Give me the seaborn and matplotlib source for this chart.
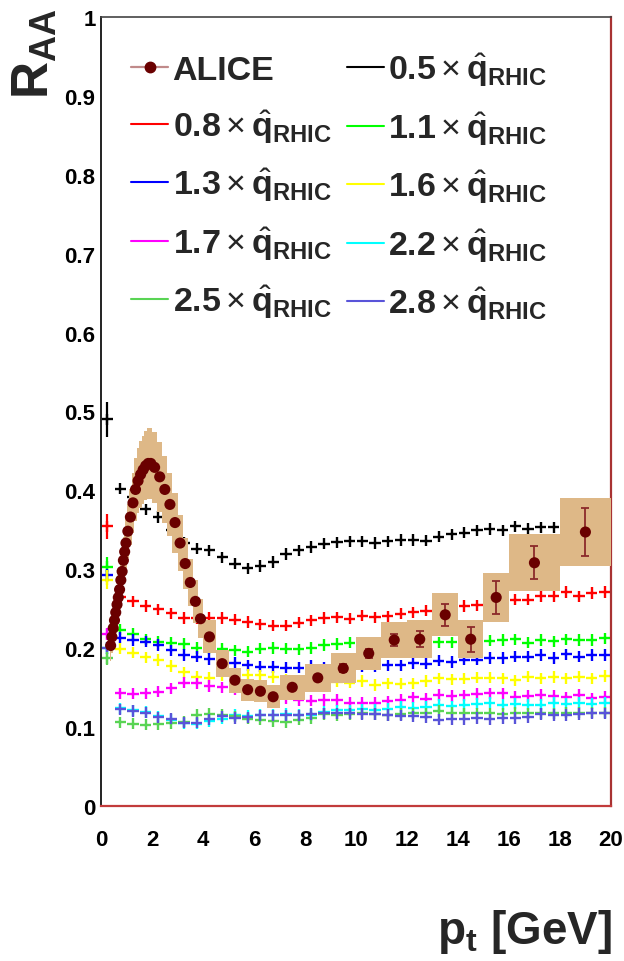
import numpy as np
import pandas as pd
import matplotlib
matplotlib.use("Agg")
import matplotlib.pyplot as plt
from matplotlib.lines import Line2D
from matplotlib.ticker import MultipleLocator, FuncFormatter
import seaborn as sns

# ---------------------------------------------------------------------------
# ALICE charged-hadron nuclear modification factor (central Pb-Pb)
# ---------------------------------------------------------------------------
alice_lo = [0.35, 0.40, 0.45, 0.50, 0.55, 0.60, 0.65, 0.70, 0.75, 0.80, 0.85, 0.90, 0.95,
            1.0, 1.1, 1.2, 1.3, 1.4, 1.5, 1.6, 1.7, 1.8, 1.9,
            2.0, 2.2, 2.4, 2.6, 2.8, 3.0, 3.2, 3.4, 3.6, 3.8,
            4.0, 4.5, 5.0, 5.5, 6.0, 6.5,
            7.0, 8.0, 9.0, 10.0, 11.0, 12.0, 13.0, 14.0, 15.0, 16.0, 18.0]
alice_hi = [0.40, 0.45, 0.50, 0.55, 0.60, 0.65, 0.70, 0.75, 0.80, 0.85, 0.90, 0.95, 1.0,
            1.1, 1.2, 1.3, 1.4, 1.5, 1.6, 1.7, 1.8, 1.9, 2.0,
            2.2, 2.4, 2.6, 2.8, 3.0, 3.2, 3.4, 3.6, 3.8, 4.0,
            4.5, 5.0, 5.5, 6.0, 6.5, 7.0,
            8.0, 9.0, 10.0, 11.0, 12.0, 13.0, 14.0, 15.0, 16.0, 18.0, 20.0]
alice_raa = [0.203, 0.214, 0.225, 0.235, 0.245, 0.255, 0.264, 0.274, 0.286, 0.297, 0.311, 0.322, 0.333,
             0.348, 0.366, 0.384, 0.401, 0.412, 0.420, 0.426, 0.431, 0.434, 0.434,
             0.429, 0.417, 0.401, 0.382, 0.359, 0.333, 0.307, 0.283, 0.259, 0.237,
             0.214, 0.180, 0.159, 0.147, 0.145, 0.138,
             0.150, 0.162, 0.174, 0.193, 0.210, 0.211, 0.242, 0.211, 0.264, 0.308, 0.347]
alice_stat = [0.002] * 39 + [0.003, 0.004, 0.005, 0.006, 0.008, 0.010, 0.014, 0.016, 0.021, 0.021, 0.030]
alice_sys = [0.020, 0.021, 0.022, 0.023, 0.024, 0.025, 0.026, 0.027, 0.028, 0.029, 0.030, 0.031, 0.032,
             0.034, 0.036, 0.038, 0.040, 0.041, 0.042, 0.043, 0.044, 0.045, 0.045,
             0.045, 0.044, 0.042, 0.040, 0.038, 0.035, 0.032, 0.030, 0.027, 0.025,
             0.021, 0.017, 0.016, 0.014, 0.014, 0.0145,
             0.016, 0.018, 0.019, 0.021, 0.023, 0.024, 0.027, 0.024, 0.031, 0.036, 0.043]

# ---------------------------------------------------------------------------
# Model predictions for several scalings of the RHIC transport coefficient
# (0.5 GeV wide p_t bins)
# ---------------------------------------------------------------------------
model_pt = [0.25, 0.75, 1.25, 1.75, 2.25, 2.75, 3.25, 3.75, 4.25, 4.75,
            5.25, 5.75, 6.25, 6.75, 7.25, 7.75, 8.25, 8.75, 9.25, 9.75,
            10.25, 10.75, 11.25, 11.75, 12.25, 12.75, 13.25, 13.75, 14.25, 14.75,
            15.25, 15.75, 16.25, 16.75, 17.25, 17.75, 18.25, 18.75, 19.25, 19.75]

qhat_factors = ["0.5", "0.8", "1.1", "1.3", "1.6", "1.7", "2.2", "2.5", "2.8"]

raa_q05 = [0.490, 0.402, 0.392, 0.376, 0.366, 0.350, 0.333, 0.326, 0.324, 0.315,
           0.307, 0.301, 0.304, 0.309, 0.319, 0.324, 0.328, 0.332, 0.334, 0.335,
           0.335, 0.333, 0.335, 0.337, 0.337, 0.336, 0.341, 0.344, 0.346, 0.349,
           0.351, 0.349, 0.354, 0.351, 0.353, 0.353, 0.355, 0.356, 0.357, 0.358]
raa_q08 = [0.354, 0.265, 0.259, 0.253, 0.249, 0.244, 0.238, 0.238, 0.238, 0.238,
           0.236, 0.233, 0.230, 0.228, 0.228, 0.232, 0.235, 0.238, 0.239, 0.237,
           0.241, 0.239, 0.240, 0.2435, 0.245, 0.247, 0.249, 0.251, 0.253, 0.254,
           0.257, 0.259, 0.261, 0.261, 0.2655, 0.2655, 0.271, 0.2655, 0.2697, 0.271]
raa_q11 = [0.303, 0.223, 0.218, 0.211, 0.208, 0.2065, 0.205, 0.200, 0.199, 0.199,
           0.197, 0.195, 0.199, 0.200, 0.199, 0.198, 0.200, 0.2035, 0.2048, 0.2065,
           0.207, 0.207, 0.208, 0.208, 0.208, 0.208, 0.207, 0.207, 0.208, 0.208,
           0.209, 0.210, 0.2107, 0.2065, 0.210, 0.2085, 0.2107, 0.210, 0.210, 0.212]
raa_q13 = [0.292, 0.213, 0.210, 0.2077, 0.2035, 0.197, 0.191, 0.189, 0.186, 0.183,
           0.181, 0.178, 0.176, 0.1756, 0.175, 0.175, 0.177, 0.175, 0.1755, 0.1755,
           0.176, 0.176, 0.178, 0.178, 0.181, 0.180, 0.184, 0.182, 0.185, 0.185,
           0.187, 0.187, 0.189, 0.189, 0.191, 0.187, 0.192, 0.189, 0.191, 0.191]
raa_q16 = [0.2866, 0.199, 0.194, 0.188, 0.1846, 0.177, 0.169, 0.1635, 0.162, 0.165,
           0.166, 0.166, 0.165, 0.163, 0.160, 0.159, 0.158, 0.157, 0.157, 0.156,
           0.158, 0.153, 0.155, 0.1545, 0.155, 0.158, 0.1614, 0.160, 0.161, 0.162,
           0.162, 0.1614, 0.159, 0.1635, 0.1614, 0.163, 0.1614, 0.1635, 0.1614, 0.1643]
raa_q17 = [0.2175, 0.1425, 0.142, 0.1425, 0.1445, 0.1488, 0.156, 0.155, 0.1517, 0.150,
           0.148, 0.146, 0.144, 0.140, 0.136, 0.134, 0.133, 0.134, 0.134, 0.1306,
           0.1306, 0.1306, 0.132, 0.134, 0.1374, 0.135, 0.1403, 0.139, 0.140, 0.1416,
           0.1425, 0.1425, 0.138, 0.139, 0.1403, 0.139, 0.1374, 0.1403, 0.136, 0.138]
raa_q22 = [0.200, 0.1235, 0.121, 0.1186, 0.113, 0.109, 0.1045, 0.104, 0.107, 0.110,
           0.115, 0.114, 0.115, 0.115, 0.116, 0.115, 0.115, 0.119, 0.1206, 0.121,
           0.122, 0.1214, 0.1226, 0.1255, 0.124, 0.1255, 0.1277, 0.126, 0.1277, 0.129,
           0.1306, 0.128, 0.129, 0.128, 0.128, 0.130, 0.129, 0.1306, 0.129, 0.1306]
raa_q25 = [0.1867, 0.1058, 0.104, 0.1025, 0.103, 0.1045, 0.1065, 0.115, 0.116, 0.115,
           0.113, 0.110, 0.109, 0.107, 0.106, 0.109, 0.111, 0.116, 0.115, 0.116,
           0.117, 0.116, 0.115, 0.116, 0.117, 0.117, 0.120, 0.118, 0.117, 0.117,
           0.117, 0.1163, 0.118, 0.117, 0.117, 0.117, 0.118, 0.118, 0.118, 0.118]
raa_q28 = [0.200, 0.122, 0.120, 0.118, 0.112, 0.110, 0.105, 0.105, 0.1096, 0.113,
           0.111, 0.112, 0.1145, 0.1145, 0.1145, 0.1145, 0.116, 0.117, 0.117, 0.117,
           0.1163, 0.1163, 0.115, 0.1138, 0.113, 0.112, 0.1087, 0.1096, 0.1096, 0.111,
           0.1096, 0.111, 0.111, 0.112, 0.1163, 0.115, 0.115, 0.116, 0.1172, 0.1172]

# uncertainty of the lowest p_t bin of each model curve
first_bin_err = [0.022, 0.016, 0.012, 0.008, 0.012, 0.006, 0.005, 0.008, 0.005]

model_curves = [raa_q05, raa_q08, raa_q11, raa_q13, raa_q16,
                raa_q17, raa_q22, raa_q25, raa_q28]
model_colors = ["#000000", "#ff0000", "#00ff00", "#0000ff", "#ffff00",
                "#ff00ff", "#00ffff", "#59d454", "#5954d9"]

# ---------------------------------------------------------------------------
sns.set_style("white")
plt.rcParams["font.family"] = ["Liberation Sans", "DejaVu Sans"]
plt.rcParams["mathtext.fontset"] = "custom"
plt.rcParams["mathtext.rm"] = "Liberation Sans"
plt.rcParams["mathtext.bf"] = "Liberation Sans:bold"
plt.rcParams["mathtext.it"] = "Liberation Sans:italic"

fig = plt.figure(figsize=(6.24, 9.62), dpi=100)
ax = fig.add_axes([0.162, 0.1616, 0.817, 0.8194])

# model curves drawn as '+' markers per bin
model_df = pd.DataFrame({
    "pt": np.tile(model_pt, len(qhat_factors)),
    "raa": np.concatenate(model_curves),
    "factor": np.repeat(qhat_factors, len(model_pt)),
})
palette = dict(zip(qhat_factors, model_colors))
sns.scatterplot(data=model_df, x="pt", y="raa", hue="factor", palette=palette,
                marker="+", s=66, linewidth=1.7, legend=False, ax=ax, zorder=2)
for vals, err, col in zip(model_curves, first_bin_err, model_colors):
    ax.errorbar(model_pt[0], vals[0], yerr=err, fmt="none", ecolor=col,
                elinewidth=1.6, zorder=2)

# ALICE data: systematic boxes, statistical bars, points
lo = np.array(alice_lo)
hi = np.array(alice_hi)
raa = np.array(alice_raa)
sysu = np.array(alice_sys)
centers = 0.5 * (lo + hi)
ax.bar(centers, 2 * sysu, width=hi - lo, bottom=raa - sysu, align="center",
       color="#deb887", linewidth=0, zorder=3)
ax.errorbar(centers, raa, yerr=alice_stat, fmt="none", ecolor="#8b2a2a",
            elinewidth=1.3, capsize=2.6, capthick=1.3, zorder=4)
sns.scatterplot(x=centers, y=raa, color="#6a0000", s=64, edgecolor="none",
                ax=ax, zorder=5)

# axes in a ROOT-like style
ax.set_xlim(0, 20)
ax.set_ylim(0, 1)
ax.xaxis.set_major_locator(MultipleLocator(2))
ax.xaxis.set_minor_locator(MultipleLocator(0.5))
ax.yaxis.set_major_locator(MultipleLocator(0.1))
ax.yaxis.set_minor_locator(MultipleLocator(0.02))


def yfmt(v, _):
    if abs(v) < 1e-9:
        return "0"
    if abs(v - 1) < 1e-9:
        return "1"
    return f"{v:.1f}"


ax.yaxis.set_major_formatter(FuncFormatter(yfmt))
ax.tick_params(axis="both", which="both", direction="in", top=False, right=False,
               colors="#333333", labelcolor="black")
ax.tick_params(axis="x", which="major", length=14, width=1.0, pad=17, labelsize=16)
ax.tick_params(axis="x", which="minor", length=7, width=1.0)
ax.tick_params(axis="y", which="major", length=12, width=1.0, pad=4, labelsize=16)
ax.tick_params(axis="y", which="minor", length=6, width=1.0)
for lab in ax.get_xticklabels() + ax.get_yticklabels():
    lab.set_fontweight("bold")
ax.set_xlabel("")
ax.set_ylabel("")

for side, col, lw in [("left", "#222222", 1.4), ("top", "#444444", 1.2),
                      ("right", "#a83232", 1.6), ("bottom", "#c23b3b", 1.6)]:
    ax.spines[side].set_visible(True)
    ax.spines[side].set_color(col)
    ax.spines[side].set_linewidth(lw)

fig.text(0.056, 0.991, r"$\mathbf{R_{AA}}$", rotation=90, ha="center", va="top",
         fontsize=37)
fig.text(0.981, 0.006, r"$\mathbf{p_{t}}$ [GeV]", ha="right", va="bottom",
         fontsize=33, fontweight="bold")

# legend: two columns, row-major reading order
alice_handle = Line2D([], [], color="#c08a8a", lw=1.6, marker="o",
                      markersize=7.5, markerfacecolor="#6a0000",
                      markeredgecolor="#6a0000")
model_handles = [Line2D([], [], color=c, lw=1.5) for c in model_colors]
model_labels = [rf"$\mathbf{{{f}}}\times\hat{{\mathbf{{q}}}}_{{\mathbf{{RHIC}}}}$"
                for f in qhat_factors]
handles = [alice_handle] + model_handles
labels = ["ALICE"] + model_labels
order = [0, 2, 4, 6, 8, 1, 3, 5, 7, 9]
ax.legend([handles[i] for i in order], [labels[i] for i in order],
          ncol=2, loc="upper left", bbox_to_anchor=(0.012, 0.988), frameon=False,
          prop=dict(family="Liberation Sans", weight="bold", size=24.5),
          handlelength=1.1, handletextpad=0.12, columnspacing=0.45,
          labelspacing=0.61, borderpad=0.2)

fig.savefig("out.png", dpi=100)
